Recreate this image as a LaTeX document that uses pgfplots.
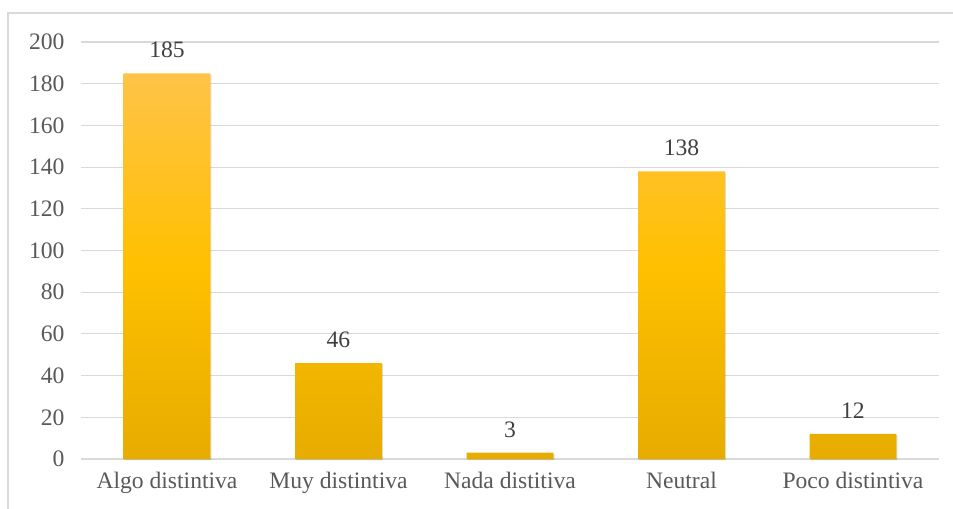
\documentclass[border=0pt]{standalone}
\usepackage{pgfplots}
\pgfplotsset{compat=1.18}
\usepackage{fontspec}
\setmainfont{Liberation Serif}
\definecolor{gridc}{RGB}{217,217,217}
\definecolor{tickc}{RGB}{89,89,89}
\definecolor{labc}{RGB}{64,64,64}
\definecolor{bartop}{RGB}{255,195,72}
\definecolor{barmid}{RGB}{255,192,0}
\definecolor{barbot}{RGB}{230,172,0}
\begin{document}
\begin{tikzpicture}
\begin{axis}[
  at={(0,0)}, anchor=south west,
  scale only axis,
  width=643.1pt, height=312.75pt,
  xmin=-0.5, xmax=4.5,
  ymin=0, ymax=200,
  ytick={0,20,...,200},
  xtick={0,1,2,3,4},
  xticklabels={Algo distintiva,Muy distintiva,Nada distitiva,Neutral,Poco distintiva},
  axis line style={draw=none},
  axis x line*=bottom,
  ymajorgrids,
  grid style={gridc, line width=0.8pt},
  major tick length=0pt,
  tick style={draw=none},
  /pgf/number format/assume math mode=true,
  ticklabel style={font=\fontsize{17.7}{20}\selectfont, text=tickc},
  yticklabel style={xshift=-9pt},
  xticklabel style={yshift=-6pt},
  nodes near coords,
  every node near coord/.append style={font=\fontsize{17.7}{20}\selectfont, text=labc, yshift=8pt},
  clip=false,
]
\draw[gridc, line width=0.8pt] (axis cs:-0.5,0) -- (axis cs:4.5,0);
\addplot[ybar, bar width=65pt, draw=none,
  preaction={fill=black, opacity=0.12, transform canvas={xshift=0.8pt, yshift=-0.8pt}},
  top color=bartop, bottom color=barbot, middle color=barmid]
  coordinates {(0,185) (1,46) (2,3) (3,138) (4,12)};
\end{axis}
\useasboundingbox (-60.94pt,-36.75pt) rectangle (653.81pt,344.25pt);
\clip (-60.94pt,-36.75pt) rectangle (653.81pt,344.25pt);
\draw[gridc, line width=0.8pt] (660pt,334.5pt) -- (-54.94pt,334.5pt) -- (-54.94pt,-50pt);
\end{tikzpicture}
\end{document}
